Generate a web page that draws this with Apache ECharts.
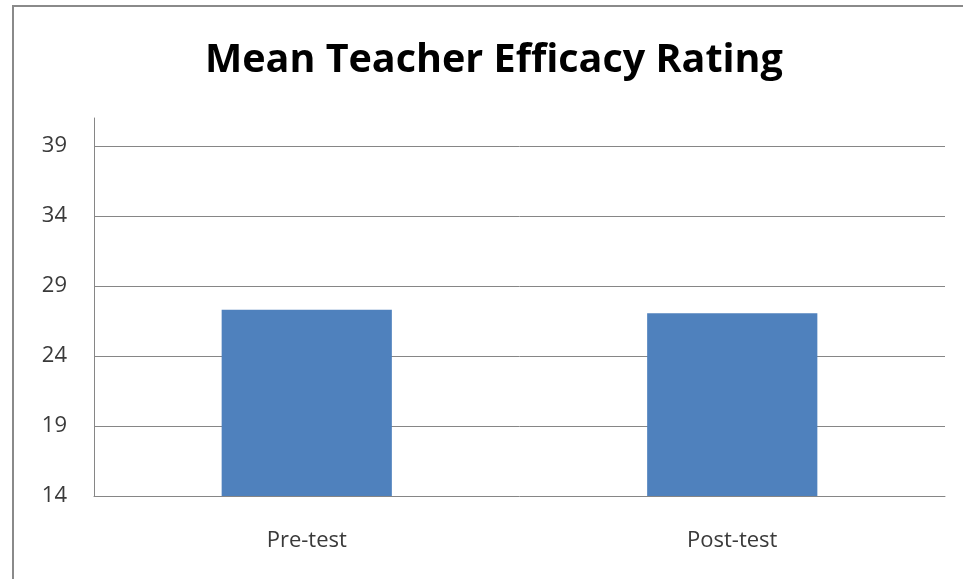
<!DOCTYPE html>
<html>
<head>
<meta charset="utf-8">
<script src="https://cdn.jsdelivr.net/npm/echarts@6/dist/echarts.min.js"></script>
<style>html,body{margin:0;padding:0;background:#fff}#c{width:963px;height:579px}</style>
</head>
<body>
<div id="c"></div>
<script>
const titleText = 'Mean Teacher Efficacy Rating';
const categories = ['Pre-test', 'Post-test'];
const values = [27.3, 27.05];
const yMin = 14, yMax = 41, yInterval = 5;

const chart = echarts.init(document.getElementById('c'), null, {renderer: 'canvas'});
chart.setOption({
  animation: false,
  backgroundColor: '#ffffff',
  title: {
    text: titleText,
    left: 205,
    top: 41,
    padding: 0,
    textStyle: {fontFamily: 'Open Sans', fontWeight: 'bold', fontSize: 39.5, color: '#000000'}
  },
  graphic: [{
    type: 'rect',
    shape: {x: 13, y: 6, width: 1200, height: 1200},
    style: {fill: 'none', stroke: '#8a8a8a', lineWidth: 2},
    silent: true
  }],
  grid: {left: 94, right: 18, top: 118, bottom: 83},
  xAxis: {
    type: 'category',
    data: categories,
    axisLine: {show: true, lineStyle: {color: '#868686', width: 1}},
    axisTick: {show: false},
    axisLabel: {margin: 34, fontFamily: 'Open Sans', fontSize: 22, color: '#3a3a3a'}
  },
  yAxis: {
    type: 'value',
    min: yMin,
    max: yMax,
    interval: yInterval,
    axisLine: {show: true, lineStyle: {color: '#868686', width: 1}},
    axisTick: {show: false},
    axisLabel: {margin: 27, fontFamily: 'Open Sans', fontSize: 22, color: '#3a3a3a', showMaxLabel: false},
    splitLine: {show: true, showMaxLine: false, showMinLine: false, lineStyle: {color: '#868686', width: 1}}
  },
  series: [{
    type: 'bar',
    data: values,
    barWidth: '40%',
    itemStyle: {color: '#4f81bd'}
  }]
});
</script>
</body>
</html>
